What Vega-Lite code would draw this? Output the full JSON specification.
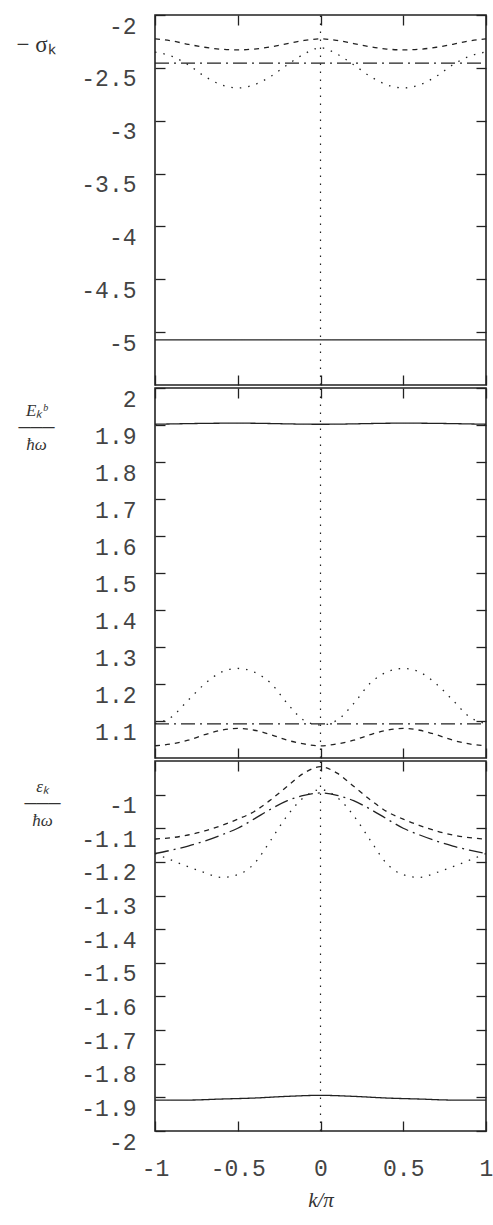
{
  "$schema": "https://vega.github.io/schema/vega-lite/v6.json",
  "padding": {"left": 15, "top": 13, "right": 0, "bottom": 0},
  "spacing": 3,
  "bounds": "flush",
  "config": {
    "view": {"stroke": "#222", "strokeWidth": 1.6},
    "axis": {
      "domain": false, "grid": false, "tickSize": -10, "tickColor": "#222", "tickWidth": 1.3,
      "labelFont": "Liberation Mono", "labelFontSize": 23, "labelColor": "#444",
      "labelFlush": false, "labelOverlap": false, "labelPadding": 29
    },
    "axisY": {"labelOffset": 11},
    "axisX": {"labelPadding": 36}
  },
  "datasets": {
    "curves": [
      {"panel": "sigma", "series": "solid", "k": -1, "v": -5.073},
      {"panel": "sigma", "series": "solid", "k": 0, "v": -5.073},
      {"panel": "sigma", "series": "solid", "k": 1, "v": -5.073},
      {"panel": "sigma", "series": "dashdot", "k": -1, "v": -2.455},
      {"panel": "sigma", "series": "dashdot", "k": 0, "v": -2.455},
      {"panel": "sigma", "series": "dashdot", "k": 1, "v": -2.455},
      {"panel": "sigma", "series": "dashed", "k": -1, "v": -2.226},
      {"panel": "sigma", "series": "dashed", "k": -0.9, "v": -2.245},
      {"panel": "sigma", "series": "dashed", "k": -0.8, "v": -2.277},
      {"panel": "sigma", "series": "dashed", "k": -0.7, "v": -2.305},
      {"panel": "sigma", "series": "dashed", "k": -0.6, "v": -2.324},
      {"panel": "sigma", "series": "dashed", "k": -0.5, "v": -2.33},
      {"panel": "sigma", "series": "dashed", "k": -0.4, "v": -2.322},
      {"panel": "sigma", "series": "dashed", "k": -0.3, "v": -2.301},
      {"panel": "sigma", "series": "dashed", "k": -0.2, "v": -2.27},
      {"panel": "sigma", "series": "dashed", "k": -0.1, "v": -2.241},
      {"panel": "sigma", "series": "dashed", "k": 0, "v": -2.226},
      {"panel": "sigma", "series": "dashed", "k": 0.1, "v": -2.241},
      {"panel": "sigma", "series": "dashed", "k": 0.2, "v": -2.27},
      {"panel": "sigma", "series": "dashed", "k": 0.3, "v": -2.301},
      {"panel": "sigma", "series": "dashed", "k": 0.4, "v": -2.322},
      {"panel": "sigma", "series": "dashed", "k": 0.5, "v": -2.33},
      {"panel": "sigma", "series": "dashed", "k": 0.6, "v": -2.324},
      {"panel": "sigma", "series": "dashed", "k": 0.7, "v": -2.305},
      {"panel": "sigma", "series": "dashed", "k": 0.8, "v": -2.277},
      {"panel": "sigma", "series": "dashed", "k": 0.9, "v": -2.245},
      {"panel": "sigma", "series": "dashed", "k": 1, "v": -2.226},
      {"panel": "sigma", "series": "dotted", "k": -1, "v": -2.35},
      {"panel": "sigma", "series": "dotted", "k": -0.9, "v": -2.39},
      {"panel": "sigma", "series": "dotted", "k": -0.8, "v": -2.47},
      {"panel": "sigma", "series": "dotted", "k": -0.7, "v": -2.58},
      {"panel": "sigma", "series": "dotted", "k": -0.6, "v": -2.66},
      {"panel": "sigma", "series": "dotted", "k": -0.5, "v": -2.69},
      {"panel": "sigma", "series": "dotted", "k": -0.4, "v": -2.66},
      {"panel": "sigma", "series": "dotted", "k": -0.3, "v": -2.58},
      {"panel": "sigma", "series": "dotted", "k": -0.2, "v": -2.47},
      {"panel": "sigma", "series": "dotted", "k": -0.1, "v": -2.37},
      {"panel": "sigma", "series": "dotted", "k": 0, "v": -2.31},
      {"panel": "sigma", "series": "dotted", "k": 0.1, "v": -2.37},
      {"panel": "sigma", "series": "dotted", "k": 0.2, "v": -2.47},
      {"panel": "sigma", "series": "dotted", "k": 0.3, "v": -2.58},
      {"panel": "sigma", "series": "dotted", "k": 0.4, "v": -2.66},
      {"panel": "sigma", "series": "dotted", "k": 0.5, "v": -2.69},
      {"panel": "sigma", "series": "dotted", "k": 0.6, "v": -2.66},
      {"panel": "sigma", "series": "dotted", "k": 0.7, "v": -2.58},
      {"panel": "sigma", "series": "dotted", "k": 0.8, "v": -2.47},
      {"panel": "sigma", "series": "dotted", "k": 0.9, "v": -2.39},
      {"panel": "sigma", "series": "dotted", "k": 1, "v": -2.35},

      {"panel": "Eb", "series": "solid", "k": -1, "v": 1.902},
      {"panel": "Eb", "series": "solid", "k": -0.5, "v": 1.905},
      {"panel": "Eb", "series": "solid", "k": 0, "v": 1.902},
      {"panel": "Eb", "series": "solid", "k": 0.5, "v": 1.905},
      {"panel": "Eb", "series": "solid", "k": 1, "v": 1.902},
      {"panel": "Eb", "series": "dashdot", "k": -1, "v": 1.092},
      {"panel": "Eb", "series": "dashdot", "k": 0, "v": 1.092},
      {"panel": "Eb", "series": "dashdot", "k": 1, "v": 1.092},
      {"panel": "Eb", "series": "dotted", "k": -1, "v": 1.093},
      {"panel": "Eb", "series": "dotted", "k": -0.9, "v": 1.111},
      {"panel": "Eb", "series": "dotted", "k": -0.8, "v": 1.156},
      {"panel": "Eb", "series": "dotted", "k": -0.7, "v": 1.2},
      {"panel": "Eb", "series": "dotted", "k": -0.6, "v": 1.232},
      {"panel": "Eb", "series": "dotted", "k": -0.5, "v": 1.242},
      {"panel": "Eb", "series": "dotted", "k": -0.4, "v": 1.232},
      {"panel": "Eb", "series": "dotted", "k": -0.3, "v": 1.202},
      {"panel": "Eb", "series": "dotted", "k": -0.2, "v": 1.147},
      {"panel": "Eb", "series": "dotted", "k": -0.1, "v": 1.102},
      {"panel": "Eb", "series": "dotted", "k": 0, "v": 1.089},
      {"panel": "Eb", "series": "dotted", "k": 0.1, "v": 1.102},
      {"panel": "Eb", "series": "dotted", "k": 0.2, "v": 1.147},
      {"panel": "Eb", "series": "dotted", "k": 0.3, "v": 1.202},
      {"panel": "Eb", "series": "dotted", "k": 0.4, "v": 1.232},
      {"panel": "Eb", "series": "dotted", "k": 0.5, "v": 1.242},
      {"panel": "Eb", "series": "dotted", "k": 0.6, "v": 1.232},
      {"panel": "Eb", "series": "dotted", "k": 0.7, "v": 1.2},
      {"panel": "Eb", "series": "dotted", "k": 0.8, "v": 1.156},
      {"panel": "Eb", "series": "dotted", "k": 0.9, "v": 1.111},
      {"panel": "Eb", "series": "dotted", "k": 1, "v": 1.093},
      {"panel": "Eb", "series": "dashed", "k": -1, "v": 1.033},
      {"panel": "Eb", "series": "dashed", "k": -0.9, "v": 1.038},
      {"panel": "Eb", "series": "dashed", "k": -0.8, "v": 1.048},
      {"panel": "Eb", "series": "dashed", "k": -0.7, "v": 1.063},
      {"panel": "Eb", "series": "dashed", "k": -0.6, "v": 1.075},
      {"panel": "Eb", "series": "dashed", "k": -0.5, "v": 1.08},
      {"panel": "Eb", "series": "dashed", "k": -0.4, "v": 1.075},
      {"panel": "Eb", "series": "dashed", "k": -0.3, "v": 1.063},
      {"panel": "Eb", "series": "dashed", "k": -0.2, "v": 1.048},
      {"panel": "Eb", "series": "dashed", "k": -0.1, "v": 1.038},
      {"panel": "Eb", "series": "dashed", "k": 0, "v": 1.033},
      {"panel": "Eb", "series": "dashed", "k": 0.1, "v": 1.038},
      {"panel": "Eb", "series": "dashed", "k": 0.2, "v": 1.048},
      {"panel": "Eb", "series": "dashed", "k": 0.3, "v": 1.063},
      {"panel": "Eb", "series": "dashed", "k": 0.4, "v": 1.075},
      {"panel": "Eb", "series": "dashed", "k": 0.5, "v": 1.08},
      {"panel": "Eb", "series": "dashed", "k": 0.6, "v": 1.075},
      {"panel": "Eb", "series": "dashed", "k": 0.7, "v": 1.063},
      {"panel": "Eb", "series": "dashed", "k": 0.8, "v": 1.048},
      {"panel": "Eb", "series": "dashed", "k": 0.9, "v": 1.038},
      {"panel": "Eb", "series": "dashed", "k": 1, "v": 1.033},

      {"panel": "eps", "series": "solid", "k": -1, "v": -1.908},
      {"panel": "eps", "series": "solid", "k": -0.8, "v": -1.908},
      {"panel": "eps", "series": "solid", "k": -0.6, "v": -1.905},
      {"panel": "eps", "series": "solid", "k": -0.4, "v": -1.902},
      {"panel": "eps", "series": "solid", "k": -0.2, "v": -1.897},
      {"panel": "eps", "series": "solid", "k": 0, "v": -1.894},
      {"panel": "eps", "series": "solid", "k": 0.2, "v": -1.897},
      {"panel": "eps", "series": "solid", "k": 0.4, "v": -1.902},
      {"panel": "eps", "series": "solid", "k": 0.6, "v": -1.905},
      {"panel": "eps", "series": "solid", "k": 0.8, "v": -1.908},
      {"panel": "eps", "series": "solid", "k": 1, "v": -1.908},
      {"panel": "eps", "series": "dashed", "k": -1, "v": -1.132},
      {"panel": "eps", "series": "dashed", "k": -0.9, "v": -1.128},
      {"panel": "eps", "series": "dashed", "k": -0.8, "v": -1.12},
      {"panel": "eps", "series": "dashed", "k": -0.7, "v": -1.108},
      {"panel": "eps", "series": "dashed", "k": -0.6, "v": -1.092},
      {"panel": "eps", "series": "dashed", "k": -0.5, "v": -1.073},
      {"panel": "eps", "series": "dashed", "k": -0.4, "v": -1.05},
      {"panel": "eps", "series": "dashed", "k": -0.3, "v": -1.015},
      {"panel": "eps", "series": "dashed", "k": -0.2, "v": -0.975},
      {"panel": "eps", "series": "dashed", "k": -0.1, "v": -0.936},
      {"panel": "eps", "series": "dashed", "k": 0, "v": -0.917},
      {"panel": "eps", "series": "dashed", "k": 0.1, "v": -0.936},
      {"panel": "eps", "series": "dashed", "k": 0.2, "v": -0.975},
      {"panel": "eps", "series": "dashed", "k": 0.3, "v": -1.015},
      {"panel": "eps", "series": "dashed", "k": 0.4, "v": -1.05},
      {"panel": "eps", "series": "dashed", "k": 0.5, "v": -1.073},
      {"panel": "eps", "series": "dashed", "k": 0.6, "v": -1.092},
      {"panel": "eps", "series": "dashed", "k": 0.7, "v": -1.108},
      {"panel": "eps", "series": "dashed", "k": 0.8, "v": -1.12},
      {"panel": "eps", "series": "dashed", "k": 0.9, "v": -1.128},
      {"panel": "eps", "series": "dashed", "k": 1, "v": -1.132},
      {"panel": "eps", "series": "dashdot", "k": -1, "v": -1.175},
      {"panel": "eps", "series": "dashdot", "k": -0.9, "v": -1.165},
      {"panel": "eps", "series": "dashdot", "k": -0.8, "v": -1.153},
      {"panel": "eps", "series": "dashdot", "k": -0.7, "v": -1.138},
      {"panel": "eps", "series": "dashdot", "k": -0.6, "v": -1.12},
      {"panel": "eps", "series": "dashdot", "k": -0.5, "v": -1.1},
      {"panel": "eps", "series": "dashdot", "k": -0.4, "v": -1.072},
      {"panel": "eps", "series": "dashdot", "k": -0.3, "v": -1.043},
      {"panel": "eps", "series": "dashdot", "k": -0.2, "v": -1.018},
      {"panel": "eps", "series": "dashdot", "k": -0.1, "v": -1.002},
      {"panel": "eps", "series": "dashdot", "k": 0, "v": -0.995},
      {"panel": "eps", "series": "dashdot", "k": 0.1, "v": -1.002},
      {"panel": "eps", "series": "dashdot", "k": 0.2, "v": -1.018},
      {"panel": "eps", "series": "dashdot", "k": 0.3, "v": -1.043},
      {"panel": "eps", "series": "dashdot", "k": 0.4, "v": -1.072},
      {"panel": "eps", "series": "dashdot", "k": 0.5, "v": -1.1},
      {"panel": "eps", "series": "dashdot", "k": 0.6, "v": -1.12},
      {"panel": "eps", "series": "dashdot", "k": 0.7, "v": -1.138},
      {"panel": "eps", "series": "dashdot", "k": 0.8, "v": -1.153},
      {"panel": "eps", "series": "dashdot", "k": 0.9, "v": -1.165},
      {"panel": "eps", "series": "dashdot", "k": 1, "v": -1.175},
      {"panel": "eps", "series": "dotted", "k": -1, "v": -1.175},
      {"panel": "eps", "series": "dotted", "k": -0.9, "v": -1.195},
      {"panel": "eps", "series": "dotted", "k": -0.8, "v": -1.214},
      {"panel": "eps", "series": "dotted", "k": -0.7, "v": -1.232},
      {"panel": "eps", "series": "dotted", "k": -0.6, "v": -1.246},
      {"panel": "eps", "series": "dotted", "k": -0.5, "v": -1.238},
      {"panel": "eps", "series": "dotted", "k": -0.4, "v": -1.205},
      {"panel": "eps", "series": "dotted", "k": -0.3, "v": -1.135},
      {"panel": "eps", "series": "dotted", "k": -0.2, "v": -1.062},
      {"panel": "eps", "series": "dotted", "k": -0.1, "v": -1.008},
      {"panel": "eps", "series": "dotted", "k": 0, "v": -0.985},
      {"panel": "eps", "series": "dotted", "k": 0.1, "v": -1.008},
      {"panel": "eps", "series": "dotted", "k": 0.2, "v": -1.062},
      {"panel": "eps", "series": "dotted", "k": 0.3, "v": -1.135},
      {"panel": "eps", "series": "dotted", "k": 0.4, "v": -1.205},
      {"panel": "eps", "series": "dotted", "k": 0.5, "v": -1.238},
      {"panel": "eps", "series": "dotted", "k": 0.6, "v": -1.246},
      {"panel": "eps", "series": "dotted", "k": 0.7, "v": -1.232},
      {"panel": "eps", "series": "dotted", "k": 0.8, "v": -1.214},
      {"panel": "eps", "series": "dotted", "k": 0.9, "v": -1.195},
      {"panel": "eps", "series": "dotted", "k": 1, "v": -1.175}
    ]
  },
  "vconcat": [
    {
      "width": 331, "height": 370,
      "layer": [
        {
          "data": {"name": "curves"},
          "transform": [{"filter": "datum.panel === 'sigma'"}],
          "mark": {"type": "line", "interpolate": "monotone", "color": "#222", "strokeWidth": 1.3},
          "encoding": {
            "x": {"field": "k", "type": "quantitative", "scale": {"domain": [-1, 1], "nice": false},
                  "axis": {"orient": "bottom", "values": [-1, -0.5, 0, 0.5, 1], "labels": false, "title": null}},
            "y": {"field": "v", "type": "quantitative", "scale": {"domain": [-5.5, -2], "nice": false, "zero": false},
                  "axis": {"orient": "left", "values": [-5, -4.5, -4, -3.5, -3, -2.5, -2], "labelExpr": "toString(datum.value)",
                           "title": "− σₖ", "titleAngle": 0, "titleAlign": "left", "titleBaseline": "middle",
                           "titleX": -139, "titleY": 29, "titleFont": "Liberation Serif", "titleFontSize": 23,
                           "titleFontStyle": "normal", "titleFontWeight": "normal", "titleColor": "#333"}},
            "strokeDash": {"field": "series", "type": "nominal", "legend": null,
                           "scale": {"domain": ["solid", "dashed", "dotted", "dashdot"], "range": [[1, 0], [5, 5], [1.5, 7], [14, 5, 2, 5]]}}
          }
        },
        {
          "data": {"values": [{"k": 0}]},
          "mark": {"type": "rule", "color": "#222", "strokeWidth": 1.2, "strokeDash": [1.5, 6.5]},
          "encoding": {
            "x": {"field": "k", "type": "quantitative", "scale": {"domain": [-1, 1], "nice": false},
                  "axis": {"orient": "top", "values": [-1, -0.5, 0, 0.5, 1], "labels": false, "title": null}},
            "y": {"datum": -5.5, "type": "quantitative", "scale": {"domain": [-5.5, -2], "nice": false, "zero": false},
                  "axis": {"orient": "right", "values": [-5, -4.5, -4, -3.5, -3, -2.5, -2], "labels": false, "title": null}},
            "y2": {"datum": -2}
          }
        }
      ],
      "resolve": {"axis": {"x": "independent", "y": "independent"}}
    },
    {
      "width": 331, "height": 370,
      "layer": [
        {
          "data": {"name": "curves"},
          "transform": [{"filter": "datum.panel === 'Eb'"}],
          "mark": {"type": "line", "interpolate": "monotone", "color": "#222", "strokeWidth": 1.3},
          "encoding": {
            "x": {"field": "k", "type": "quantitative", "scale": {"domain": [-1, 1], "nice": false},
                  "axis": {"orient": "bottom", "values": [-1, -0.5, 0, 0.5, 1], "labels": false, "title": null}},
            "y": {"field": "v", "type": "quantitative", "scale": {"domain": [1, 2], "nice": false, "zero": false},
                  "axis": {"orient": "left", "values": [1.1, 1.2, 1.3, 1.4, 1.5, 1.6, 1.7, 1.8, 1.9, 2], "labelExpr": "toString(datum.value)",
                           "title": ["Eₖᵇ", "───", "ħω"], "titleAngle": 0, "titleAlign": "center", "titleBaseline": "middle",
                           "titleX": -119, "titleY": 22, "titleLineHeight": 17, "titleFont": "Liberation Serif", "titleFontSize": 17,
                           "titleFontStyle": "italic", "titleFontWeight": "normal", "titleColor": "#333"}},
            "strokeDash": {"field": "series", "type": "nominal", "legend": null,
                           "scale": {"domain": ["solid", "dashed", "dotted", "dashdot"], "range": [[1, 0], [5, 5], [1.5, 7], [14, 5, 2, 5]]}}
          }
        },
        {
          "data": {"values": [{"k": 0}]},
          "mark": {"type": "rule", "color": "#222", "strokeWidth": 1.2, "strokeDash": [1.5, 6.5]},
          "encoding": {
            "x": {"field": "k", "type": "quantitative", "scale": {"domain": [-1, 1], "nice": false},
                  "axis": {"orient": "top", "values": [-1, -0.5, 0, 0.5, 1], "labels": false, "title": null}},
            "y": {"datum": 1, "type": "quantitative", "scale": {"domain": [1, 2], "nice": false, "zero": false},
                  "axis": {"orient": "right", "values": [1.1, 1.2, 1.3, 1.4, 1.5, 1.6, 1.7, 1.8, 1.9, 2], "labels": false, "title": null}},
            "y2": {"datum": 2}
          }
        }
      ],
      "resolve": {"axis": {"x": "independent", "y": "independent"}}
    },
    {
      "width": 331, "height": 370,
      "layer": [
        {
          "data": {"name": "curves"},
          "transform": [{"filter": "datum.panel === 'eps'"}],
          "mark": {"type": "line", "interpolate": "monotone", "color": "#222", "strokeWidth": 1.3},
          "encoding": {
            "x": {"field": "k", "type": "quantitative", "scale": {"domain": [-1, 1], "nice": false},
                  "axis": {"orient": "bottom", "values": [-1, -0.5, 0, 0.5, 1], "labelExpr": "toString(datum.value)",
                           "title": "k/π", "titleFont": "Liberation Serif", "titleFontSize": 21, "titleFontStyle": "italic",
                           "titleFontWeight": "normal", "titleColor": "#333", "titlePadding": 9}},
            "y": {"field": "v", "type": "quantitative", "scale": {"domain": [-2, -0.9], "nice": false, "zero": false},
                  "axis": {"orient": "left", "values": [-2, -1.9, -1.8, -1.7, -1.6, -1.5, -1.4, -1.3, -1.2, -1.1, -1], "labelExpr": "toString(datum.value)",
                           "title": ["εₖ", "───", "ħω"], "titleAngle": 0, "titleAlign": "center", "titleBaseline": "middle",
                           "titleX": -113, "titleY": 25, "titleLineHeight": 17, "titleFont": "Liberation Serif", "titleFontSize": 17,
                           "titleFontStyle": "italic", "titleFontWeight": "normal", "titleColor": "#333"}},
            "strokeDash": {"field": "series", "type": "nominal", "legend": null,
                           "scale": {"domain": ["solid", "dashed", "dotted", "dashdot"], "range": [[1, 0], [5, 5], [1.5, 7], [14, 5, 2, 5]]}}
          }
        },
        {
          "data": {"values": [{"k": 0}]},
          "mark": {"type": "rule", "color": "#222", "strokeWidth": 1.2, "strokeDash": [1.5, 6.5]},
          "encoding": {
            "x": {"field": "k", "type": "quantitative", "scale": {"domain": [-1, 1], "nice": false},
                  "axis": {"orient": "top", "values": [-1, -0.5, 0, 0.5, 1], "labels": false, "title": null}},
            "y": {"datum": -2, "type": "quantitative", "scale": {"domain": [-2, -0.9], "nice": false, "zero": false},
                  "axis": {"orient": "right", "values": [-2, -1.9, -1.8, -1.7, -1.6, -1.5, -1.4, -1.3, -1.2, -1.1, -1], "labels": false, "title": null}},
            "y2": {"datum": -0.9}
          }
        }
      ],
      "resolve": {"axis": {"x": "independent", "y": "independent"}}
    }
  ]
}
